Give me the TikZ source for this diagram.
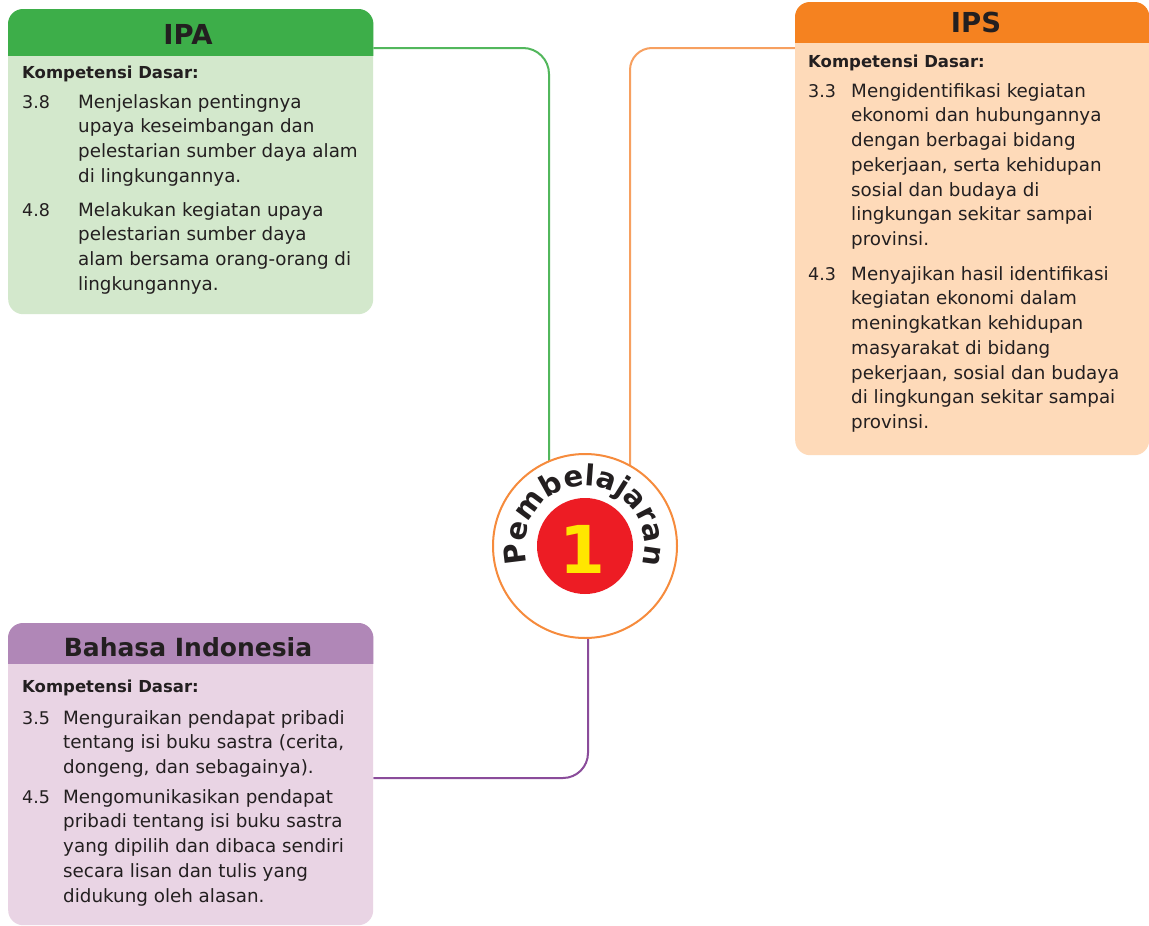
\documentclass[tikz,border=0pt]{standalone}
\usepackage{fontspec}
\setmainfont{DejaVu Sans}
\usetikzlibrary{decorations.text}
\definecolor{txt}{HTML}{231F20}
\definecolor{ipahead}{HTML}{3DAE49}
\definecolor{ipabody}{HTML}{D3E8CC}
\definecolor{ipshead}{HTML}{F58220}
\definecolor{ipsbody}{HTML}{FEDAB9}
\definecolor{bihead}{HTML}{B087B7}
\definecolor{bibody}{HTML}{E9D4E4}
\definecolor{gln}{HTML}{52B75C}
\definecolor{oln}{HTML}{F7A060}
\definecolor{pln}{HTML}{8A4C9A}
\definecolor{ring}{HTML}{F68B3C}
\definecolor{redc}{HTML}{ED1C24}
\definecolor{yel}{HTML}{FFE600}
\pgfdeclarelayer{bg}
\pgfsetlayers{bg,main}
\newcommand\tfx{\rule{0pt}{20pt}}
\begin{document}
\begin{tikzpicture}[x=1pt,y=1pt,
  panel/.style={anchor=north west, inner sep=0, rounded corners=15pt, draw=none},
  title/.style={anchor=base, inner sep=0, text=txt, font=\bfseries\fontsize{27.5}{30}\selectfont},
  kd/.style={anchor=base west, inner sep=0, text=txt, font=\bfseries\fontsize{16.5}{20}\selectfont},
  num/.style={anchor=base west, inner sep=0, text=txt, font=\fontsize{17.5}{24.7}\selectfont},
  item/.style={anchor=north west, inner sep=0, align=left, text=txt, font=\fontsize{18.3}{24.7}\selectfont},
  conn/.style={line width=2pt, rounded corners=25pt},
]
\useasboundingbox (0,0) rectangle (1149,-926);
\begin{pgfonlayer}{bg}
\fill[white] (0,0) rectangle (1149,-926);
\end{pgfonlayer}

% ---------- panels ----------
\node[panel, fill=ipabody, minimum width=365pt, minimum height=305pt] (ipa) at (8,-9) {};
\begin{scope}
\clip (ipa.north west) rectangle ([yshift=-46pt]ipa.north east);
\fill[ipahead, rounded corners=15pt] (ipa.north west) rectangle ([yshift=-80pt]ipa.north east);
\end{scope}

\node[panel, fill=ipsbody, minimum width=354pt, minimum height=453pt] (ips) at (795,-2) {};
\begin{scope}
\clip (ips.north west) rectangle ([yshift=-40pt]ips.north east);
\fill[ipshead, rounded corners=15pt] (ips.north west) rectangle ([yshift=-80pt]ips.north east);
\end{scope}

\node[panel, fill=bibody, minimum width=365pt, minimum height=302pt] (bi) at (8,-623) {};
\begin{scope}
\clip (bi.north west) rectangle ([yshift=-40pt]bi.north east);
\fill[bihead, rounded corners=15pt] (bi.north west) rectangle ([yshift=-80pt]bi.north east);
\end{scope}

% ---------- centre ----------
\node[circle, draw=ring, line width=2pt, fill=white, minimum size=184pt, inner sep=0] (circ) at (585,-546) {};
\node[circle, fill=redc, minimum size=96pt, inner sep=0] (red1) at (circ.center) {};
\node[text=yel, font=\bfseries\fontsize{66}{66}\selectfont, inner sep=0] (one) at ([shift={(-3pt,-3pt)}]circ.center) {1};
\path[decorate, decoration={text along path, text color=txt,
   text={|\bfseries\fontsize{29}{29}\selectfont|Pembelajaran}, text align=fit to path}]
   ([shift={(197:60pt)}]circ.center) arc[start angle=197, end angle=-17, radius=60pt];

% ---------- connectors ----------
\begin{pgfonlayer}{bg}
\draw[conn, gln, rounded corners=26pt] ([yshift=-39pt]ipa.north east) -| ([xshift=-36pt]circ.center);
\draw[conn, oln, rounded corners=22pt] ([yshift=-46pt]ips.north west) -| ([xshift=45pt]circ.center);
\draw[conn, pln] ([xshift=3pt]circ.center) |- ([yshift=-155pt]bi.north east);
\end{pgfonlayer}

% ---------- IPA ----------
\node[title] (ipat) at (188,-44) {IPA};
\node[kd] (ipak) at (22,-78) {Kompetensi Dasar:};
\node[num] (ipan1) at (22,-108) {3.8};
\node[item] (ipai1) at (78,-88) {\tfx Menjelaskan pentingnya\\upaya keseimbangan dan\\pelestarian sumber daya alam\\di lingkungannya.};
\node[num] (ipan2) at (22,-216) {4.8};
\node[item] (ipai2) at (78,-196) {\tfx Melakukan kegiatan upaya\\pelestarian sumber daya\\alam bersama orang-orang di\\lingkungannya.};

% ---------- IPS ----------
\node[title] (ipst) at (976,-32) {IPS};
\node[kd] (ipsk) at (808,-67) {Kompetensi Dasar:};
\node[num] (ipsn1) at (808,-97) {3.3};
\node[item] (ipsi1) at (851,-77) {\tfx Mengidentifikasi kegiatan\\ekonomi dan hubungannya\\dengan berbagai bidang\\pekerjaan, serta kehidupan\\sosial dan budaya di\\lingkungan sekitar sampai\\provinsi.};
\node[num] (ipsn2) at (808,-280) {4.3};
\node[item] (ipsi2) at (851,-260) {\tfx Menyajikan hasil identifikasi\\kegiatan ekonomi dalam\\meningkatkan kehidupan\\masyarakat di bidang\\pekerjaan, sosial dan budaya\\di lingkungan sekitar sampai\\provinsi.};

% ---------- Bahasa Indonesia ----------
\node[title, font=\bfseries\fontsize{25}{30}\selectfont] (bit) at (188,-656) {Bahasa Indonesia};
\node[kd] (bik) at (22,-692) {Kompetensi Dasar:};
\node[num] (bin1) at (22,-724) {3.5};
\node[item] (bii1) at (63,-704) {\tfx Menguraikan pendapat pribadi\\tentang isi buku sastra (cerita,\\dongeng, dan sebagainya).};
\node[num] (bin2) at (22,-803) {4.5};
\node[item] (bii2) at (63,-783) {\tfx Mengomunikasikan pendapat\\pribadi tentang isi buku sastra\\yang dipilih dan dibaca sendiri\\secara lisan dan tulis yang\\didukung oleh alasan.};
\end{tikzpicture}
\end{document}
